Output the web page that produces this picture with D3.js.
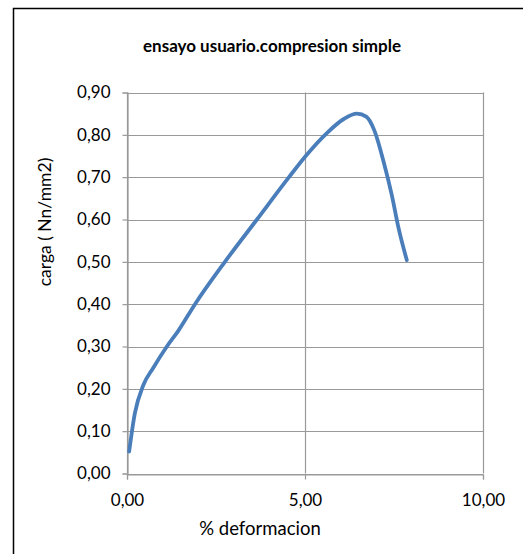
<!DOCTYPE html>
<html>
<head>
<meta charset="utf-8">
<script src="https://d3js.org/d3.v7.min.js"></script>
<style>
  body { margin: 0; background: #fff; }
  text { font-family: Lato, "Open Sans", sans-serif; }
</style>
</head>
<body>
<div id="chart"></div>
<script>
// deformation (%) vs load (N/mm2)
const deformacion = [0.06, 0.22, 0.46, 0.74, 1.12, 1.44, 1.91, 2.75, 3.65, 4.55, 5.02, 5.60, 6.10, 6.46, 6.72, 6.95, 7.21, 7.44, 7.63, 7.86];
const carga       = [0.052, 0.142, 0.209, 0.25, 0.30, 0.337, 0.40, 0.50, 0.60, 0.70, 0.75, 0.803, 0.838, 0.85, 0.843, 0.81, 0.736, 0.657, 0.579, 0.504];
const xTicks = [0, 5, 10];
const yTicks = [0, 0.1, 0.2, 0.3, 0.4, 0.5, 0.6, 0.7, 0.8, 0.9];

const W = 523, H = 554;
const svg = d3.select("#chart").append("svg")
  .attr("width", W).attr("height", H);

// outer chart frame
svg.append("rect")
  .attr("x", 13.5).attr("y", 8.5)
  .attr("width", 520).attr("height", 560)
  .attr("fill", "none").attr("stroke", "#000").attr("stroke-width", 1.5);

const x = d3.scaleLinear().domain([0, 10]).range([127, 483]);
const y = d3.scaleLinear().domain([0, 0.9]).range([473.5, 92.5]);

const fmt = v => d3.format(".2f")(v).replace(".", ",");

// grid
svg.append("g").selectAll("line").data(yTicks).join("line")
  .attr("x1", x(0)).attr("x2", x(10))
  .attr("y1", d => Math.round(y(d)) + 0.5).attr("y2", d => Math.round(y(d)) + 0.5)
  .attr("stroke", "#999").attr("stroke-width", 1.2);
svg.append("g").selectAll("line").data(xTicks).join("line")
  .attr("y1", y(0.9)).attr("y2", y(0))
  .attr("x1", d => Math.round(x(d)) + 0.5).attr("x2", d => Math.round(x(d)) + 0.5)
  .attr("stroke", "#999").attr("stroke-width", 1.2);

// axes
const yAxis = svg.append("g")
  .attr("transform", `translate(${Math.round(x(0)) + 0.5},0)`)
  .call(d3.axisLeft(y).tickValues(yTicks).tickFormat(fmt).tickSize(5).tickPadding(12));
const xAxis = svg.append("g")
  .attr("transform", `translate(0,${Math.round(y(0)) + 0.5})`)
  .call(d3.axisBottom(x).tickValues(xTicks).tickFormat(fmt).tickSize(5).tickPadding(14));
[yAxis, xAxis].forEach(a => {
  a.select(".domain").attr("stroke", "#999").attr("stroke-width", 1.2);
  a.selectAll(".tick line").attr("stroke", "#999").attr("stroke-width", 1.2);
  a.selectAll("text").attr("font-size", 17).attr("fill", "#000")
    .attr("font-family", "Lato, 'Open Sans', sans-serif");
});

// curve
const pts = deformacion.map((d, i) => [d, carga[i]]);
svg.append("path")
  .datum(pts)
  .attr("fill", "none")
  .attr("stroke", "#4a7ebb")
  .attr("stroke-width", 3.8)
  .attr("stroke-linecap", "round")
  .attr("stroke-linejoin", "round")
  .attr("d", d3.line().x(d => x(d[0])).y(d => y(d[1])).curve(d3.curveMonotoneX));

// titles
svg.append("text")
  .attr("x", 272).attr("y", 52)
  .attr("text-anchor", "middle")
  .attr("font-size", 17).attr("font-weight", "bold")
  .text("ensayo usuario.compresion simple");

svg.append("text")
  .attr("x", 260).attr("y", 535)
  .attr("text-anchor", "middle")
  .attr("font-size", 18.5)
  .text("% deformacion");

svg.append("text")
  .attr("transform", "translate(51,222) rotate(-90)")
  .attr("text-anchor", "middle")
  .attr("font-size", 17.5)
  .attr("font-family", "'Liberation Sans', Arial, sans-serif")
  .text("carga ( Nn/mm2)");
</script>
</body>
</html>
